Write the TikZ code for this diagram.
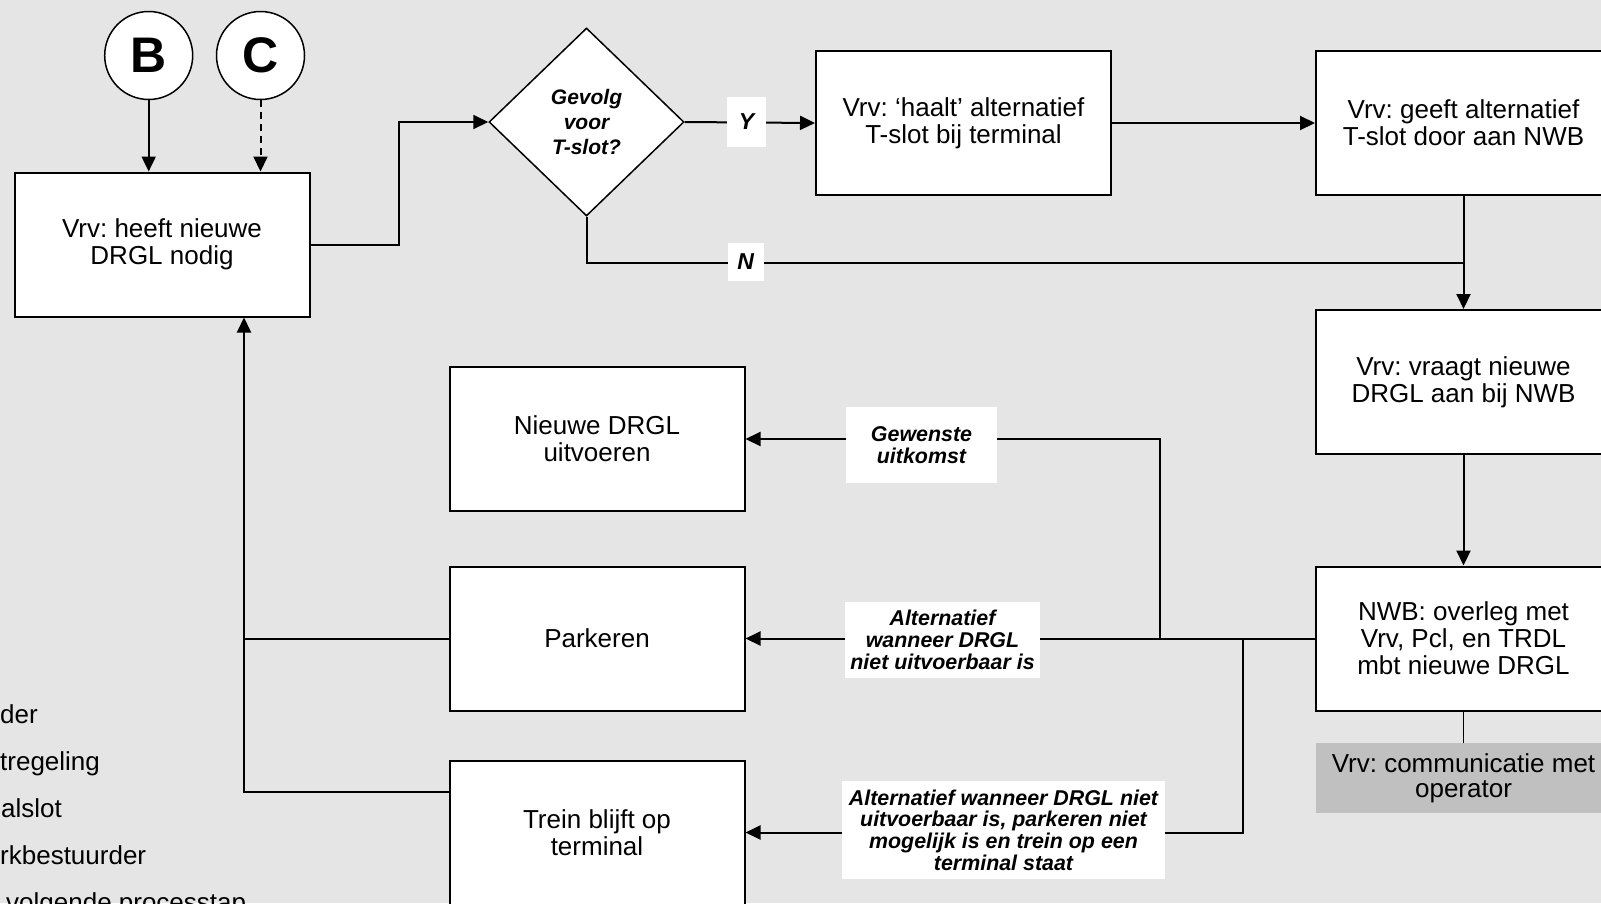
\documentclass[tikz,border=0pt]{standalone}
\usepackage{fontspec}
\setmainfont{Liberation Sans}
\frenchspacing
\usetikzlibrary{arrows.meta,shapes.geometric,calc}
\definecolor{bgc}{RGB}{229,229,229}
\definecolor{greybox}{RGB}{192,192,192}
\tikzset{
 procbox/.style={draw=black,line width=2pt,fill=white,minimum width=295pt,minimum height=144pt,inner sep=0pt,align=center,font=\fontsize{26}{27}\selectfont},
 lbl/.style={fill=white,inner sep=0pt,align=center,font=\fontsize{21.4}{21.7}\selectfont\bfseries\itshape},
 conn/.style={line width=2pt},
 arr/.style={conn,-{Triangle[length=15pt,width=14pt]}},
 letter/.style={circle,draw,line width=1.5pt,fill=white,minimum size=88pt,inner sep=0pt,font=\fontsize{50}{50}\selectfont\bfseries},
 legendtxt/.style={anchor=base west,inner sep=0pt,font=\fontsize{26}{27}\selectfont},
}
\begin{document}
\begin{tikzpicture}[x=1pt,y=-1pt]
\clip (0,0) rectangle (1601,903);
\fill[bgc] (0,0) rectangle (1601,903);

% legend (cut off at the left edge)
\node[legendtxt] (lg1) at (0,723.5) {der};
\node[legendtxt] (lg2) at (0,770.5) {tregeling};
\node[legendtxt] (lg3) at (1,817.5) {alslot};
\node[legendtxt] (lg4) at (0,864.5) {rkbestuurder};
\node[legendtxt] (lg5) at (6,911.5) {volgende processtap};

% nodes
\node[letter] (B) at (148.7,55.5) {B};
\node[letter] (C) at (260.5,55.5) {C};
\node[procbox] (box1) at (162,244.5) {Vrv: heeft nieuwe\\DRGL nodig};
\node[draw,line width=1.5pt,fill=white,diamond,aspect=1.04,minimum width=195pt,minimum height=188pt,inner sep=0pt,align=center,font=\fontsize{21}{25}\selectfont\bfseries\itshape] (dia) at (586.5,122) {Gevolg\\voor\\T-slot?};
\node[procbox] (box2) at (963.5,123) {Vrv: ‘haalt’ alternatief\\T-slot bij terminal};
\node[procbox] (box3) at (1463.5,123) {Vrv: geeft alternatief\\T-slot door aan NWB};
\node[procbox] (box4) at (1463.5,382) {Vrv: vraagt nieuwe\\DRGL aan bij NWB};
\node[procbox] (box5) at (1463.5,638.5) {NWB: overleg met\\Vrv, Pcl, en TRDL\\mbt nieuwe DRGL};
\node[fill=greybox,minimum width=295pt,minimum height=70pt,inner sep=0pt,align=center,font=\fontsize{26}{25}\selectfont] (grey) at (1463.5,778) {Vrv: communicatie met\\operator};
\node[procbox] (nieuw) at (597,439) {Nieuwe DRGL\\uitvoeren};
\node[procbox] (park) at (597,638.5) {Parkeren};
\node[procbox] (trein) at (597,832.5) {Trein blijft op\\terminal};

% junction coordinates
\coordinate (jn) at (1463.5,263);
\coordinate (j1) at (1160,638.5);
\coordinate (j2) at (1243,638.5);
\coordinate (l1) at (244,638.5);
\coordinate (l2) at (244,792);
\coordinate (k1) at (398.5,244.5);

% connectors
\draw[arr] (B) -- (B |- box1.north);
\draw[arr,dash pattern=on 7pt off 5pt] (C) -- (C |- box1.north);
\draw[arr] (box1.east) -- (k1) |- (dia.west);
\draw[arr] (dia.east) -- (box2.west);
\draw[arr] (box2.east) -- (box3.west);
\draw[arr] (box3.south) -- (box4.north);
\draw[conn] (dia.south) |- (jn);
\draw[arr] (box4.south) -- (box5.north);
\draw[line width=1.5pt] (box5.south) -- (grey.north);
\draw[arr] (box5.west) -- (park.east);
\draw[arr] (j1) |- (nieuw.east);
\draw[arr] (j2) |- (trein.east);
\draw[conn] (park.west) -- (l1);
\draw[arr] (trein.west |- l2) -- (l2) -- (box1.south -| l2);

% connector labels
\node[lbl,minimum width=39pt,minimum height=50pt,font=\fontsize{23}{23}\selectfont\bfseries\itshape] (ly) at (746.5,122) {Y};
\node[lbl,minimum width=36pt,minimum height=38pt,font=\fontsize{23}{23}\selectfont\bfseries\itshape] (ln) at (745.7,262) {N};
\node[lbl,minimum width=151pt,minimum height=76pt] (lg) at (921.5,445) {Gewenste\\uitkomst};
\node[lbl,minimum width=195pt,minimum height=76pt] (la) at (942.5,640) {Alternatief\\wanneer DRGL\\niet uitvoerbaar is};
\node[lbl,minimum width=323pt,minimum height=98pt] (lt) at (1003.5,830) {Alternatief wanneer DRGL niet\\uitvoerbaar is, parkeren niet\\mogelijk is en trein op een\\terminal staat};
\end{tikzpicture}
\end{document}
